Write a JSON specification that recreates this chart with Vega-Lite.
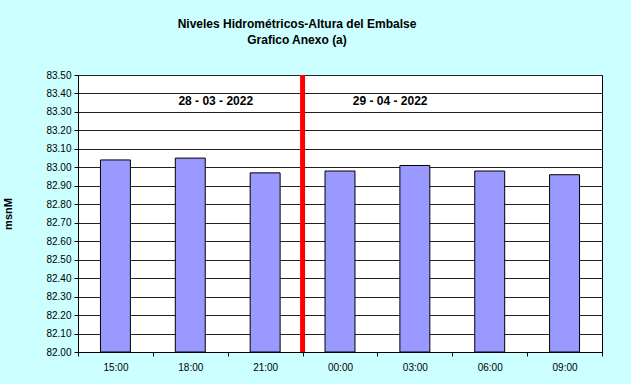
{
  "$schema": "https://vega.github.io/schema/vega-lite/v6.json",
  "width": 524,
  "height": 277,
  "autosize": {"type": "none"},
  "padding": {"left": 78, "top": 75, "right": 29, "bottom": 32},
  "background": "#CCFFFF",
  "config": {
    "font": "Liberation Sans",
    "view": {"fill": "white", "stroke": "black", "strokeWidth": 1},
    "axisY": {
      "titleFont": "Liberation Sans", "titleFontSize": 11, "titleFontWeight": "bold", "titleColor": "black",
      "labelFont": "Liberation Sans", "labelFontSize": 10, "labelColor": "black", "labelPadding": 3,
      "tickSize": 4, "tickColor": "black", "domainColor": "black",
      "grid": true, "gridColor": "#222222", "gridWidth": 1, "labelOverlap": false
    }
  },
  "title": {
    "text": ["Niveles Hidrométricos-Altura del Embalse", "Grafico Anexo (a)"],
    "font": "Liberation Sans",
    "fontSize": 12,
    "fontWeight": "bold",
    "color": "black",
    "lineHeight": 16,
    "anchor": "middle",
    "dx": -43,
    "offset": 23
  },
  "datasets": {
    "niveles": [
      {"hora": "15:00", "nivel": 83.04},
      {"hora": "18:00", "nivel": 83.05},
      {"hora": "21:00", "nivel": 82.97},
      {"hora": "00:00", "nivel": 82.98},
      {"hora": "03:00", "nivel": 83.01},
      {"hora": "06:00", "nivel": 82.98},
      {"hora": "09:00", "nivel": 82.96}
    ]
  },
  "layer": [
    {
      "data": {"name": "niveles"},
      "mark": {"type": "bar", "width": {"band": 0.4}, "color": "#9999FF", "stroke": "black", "strokeWidth": 1},
      "encoding": {
        "x": {
          "field": "hora", "type": "ordinal",
          "scale": {"domain": ["15:00", "18:00", "21:00", "00:00", "03:00", "06:00", "09:00"], "paddingInner": 0, "paddingOuter": 0},
          "axis": {
            "title": null, "tickBand": "extent", "labelAngle": 0,
            "labelFont": "Liberation Sans", "labelFontSize": 10, "labelColor": "black",
            "tickSize": 4, "tickColor": "black", "domainColor": "black", "labelPadding": 6, "grid": false
          }
        },
        "y": {
          "field": "nivel", "type": "quantitative",
          "scale": {"domain": [82, 83.5], "zero": false, "nice": false},
          "axis": {
            "title": "msnM",
            "titleX": -70, "titleY": 138.5, "titleAngle": -90, "titleAlign": "center", "titleBaseline": "middle",
            "values": [82.0, 82.1, 82.2, 82.3, 82.4, 82.5, 82.6, 82.7, 82.8, 82.9, 83.0, 83.1, 83.2, 83.3, 83.4, 83.5],
            "format": ".2f"
          }
        },
        "y2": {"datum": 82}
      }
    },
    {
      "data": {"values": [{"hora": "00:00"}]},
      "mark": {"type": "rule", "color": "#FF0000", "strokeWidth": 5},
      "encoding": {
        "x": {"field": "hora", "type": "ordinal", "bandPosition": 0}
      }
    },
    {
      "data": {"values": [{"hora": "18:00", "nivel": 83.36, "fecha": "28 - 03 - 2022"}]},
      "mark": {"type": "text", "font": "Liberation Sans", "fontSize": 12, "fontWeight": "bold", "color": "black"},
      "encoding": {
        "x": {"field": "hora", "type": "ordinal", "bandPosition": 0.84},
        "y": {
          "field": "nivel", "type": "quantitative",
          "axis": {
            "title": "msnM",
            "titleX": -70, "titleY": 138.5, "titleAngle": -90, "titleAlign": "center", "titleBaseline": "middle",
            "values": [82.0, 82.1, 82.2, 82.3, 82.4, 82.5, 82.6, 82.7, 82.8, 82.9, 83.0, 83.1, 83.2, 83.3, 83.4, 83.5],
            "format": ".2f"
          }
        },
        "text": {"field": "fecha"}
      }
    },
    {
      "data": {"values": [{"hora": "03:00", "nivel": 83.36, "fecha": "29 - 04 - 2022"}]},
      "mark": {"type": "text", "font": "Liberation Sans", "fontSize": 12, "fontWeight": "bold", "color": "black"},
      "encoding": {
        "x": {"field": "hora", "type": "ordinal", "bandPosition": 0.17},
        "y": {
          "field": "nivel", "type": "quantitative",
          "axis": {
            "title": "msnM",
            "titleX": -70, "titleY": 138.5, "titleAngle": -90, "titleAlign": "center", "titleBaseline": "middle",
            "values": [82.0, 82.1, 82.2, 82.3, 82.4, 82.5, 82.6, 82.7, 82.8, 82.9, 83.0, 83.1, 83.2, 83.3, 83.4, 83.5],
            "format": ".2f"
          }
        },
        "text": {"field": "fecha"}
      }
    }
  ]
}
